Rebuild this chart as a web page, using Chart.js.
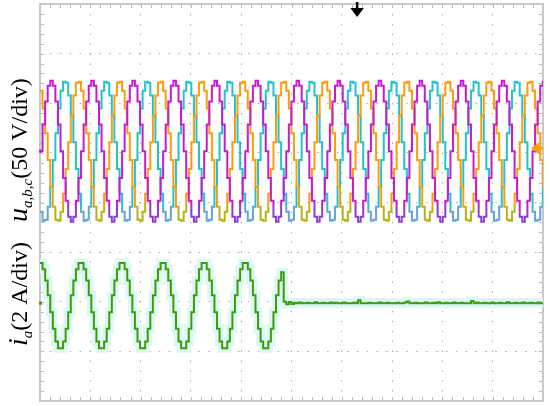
<!DOCTYPE html>
<html>
<head>
<meta charset="utf-8">
<script src="https://cdn.jsdelivr.net/npm/chart.js@4/dist/chart.umd.min.js"></script>
<style>
  html, body { margin: 0; padding: 0; background: #fff; }
  canvas { display: block; }
</style>
</head>
<body>
<canvas id="scope" width="550" height="406"></canvas>
<script>
const sampleMs = 1.275;
const triggerMs = 157.5;

// u_a (V)
const ua = [
  0, 27, 50, 66, 71, 66, 50, 27, 0, -27, -50, -66, -71, -66, -50, -27,
  0, 27, 50, 66, 71, 66, 50, 27, 0, -27, -50, -66, -71, -66, -50, -27,
  0, 27, 50, 66, 71, 66, 50, 27, 0, -27, -50, -66, -71, -66, -50, -27,
  0, 27, 50, 66, 71, 66, 50, 27, 0, -27, -50, -66, -71, -66, -50, -27,
  0, 27, 50, 66, 71, 66, 50, 27, 0, -27, -50, -66, -71, -66, -50, -27,
  0, 27, 50, 66, 71, 66, 50, 27, 0, -27, -50, -66, -71, -66, -50, -27,
  0, 27, 50, 66, 71, 66, 50, 27, 0, -27, -50, -66, -71, -66, -50, -27,
  0, 27, 50, 66, 71, 66, 50, 27, 0, -27, -50, -66, -71, -66, -50, -27,
  0, 27, 50, 66, 71, 66, 50, 27, 0, -27, -50, -66, -71, -66, -50, -27,
  0, 27, 50, 66, 71, 66, 50, 27, 0, -27, -50, -66, -71, -66, -50, -27,
  0, 27, 50, 66, 71, 66, 50, 27, 0, -27, -50, -66, -71, -66, -50, -27,
  0, 27, 50, 66, 71, 66, 50, 27, 0, -27, -50, -66, -71, -66, -50, -27,
  0, 27, 50, 66, 71
];

// u_b (V)
const ub = [
  -61, -70, -69, -56, -36, -9, 18, 43, 61, 70, 69, 56, 36, 9, -18, -43,
  -61, -70, -69, -56, -36, -9, 18, 43, 61, 70, 69, 56, 36, 9, -18, -43,
  -61, -70, -69, -56, -36, -9, 18, 43, 61, 70, 69, 56, 36, 9, -18, -43,
  -61, -70, -69, -56, -36, -9, 18, 43, 61, 70, 69, 56, 36, 9, -18, -43,
  -61, -70, -69, -56, -36, -9, 18, 43, 61, 70, 69, 56, 36, 9, -18, -43,
  -61, -70, -69, -56, -36, -9, 18, 43, 61, 70, 69, 56, 36, 9, -18, -43,
  -61, -70, -69, -56, -36, -9, 18, 43, 61, 70, 69, 56, 36, 9, -18, -43,
  -61, -70, -69, -56, -36, -9, 18, 43, 61, 70, 69, 56, 36, 9, -18, -43,
  -61, -70, -69, -56, -36, -9, 18, 43, 61, 70, 69, 56, 36, 9, -18, -43,
  -61, -70, -69, -56, -36, -9, 18, 43, 61, 70, 69, 56, 36, 9, -18, -43,
  -61, -70, -69, -56, -36, -9, 18, 43, 61, 70, 69, 56, 36, 9, -18, -43,
  -61, -70, -69, -56, -36, -9, 18, 43, 61, 70, 69, 56, 36, 9, -18, -43,
  -61, -70, -69, -56, -36
];

// u_c (V)
const uc = [
  61, 43, 18, -9, -36, -56, -69, -70, -61, -43, -18, 9, 36, 56, 69, 70,
  61, 43, 18, -9, -36, -56, -69, -70, -61, -43, -18, 9, 36, 56, 69, 70,
  61, 43, 18, -9, -36, -56, -69, -70, -61, -43, -18, 9, 36, 56, 69, 70,
  61, 43, 18, -9, -36, -56, -69, -70, -61, -43, -18, 9, 36, 56, 69, 70,
  61, 43, 18, -9, -36, -56, -69, -70, -61, -43, -18, 9, 36, 56, 69, 70,
  61, 43, 18, -9, -36, -56, -69, -70, -61, -43, -18, 9, 36, 56, 69, 70,
  61, 43, 18, -9, -36, -56, -69, -70, -61, -43, -18, 9, 36, 56, 69, 70,
  61, 43, 18, -9, -36, -56, -69, -70, -61, -43, -18, 9, 36, 56, 69, 70,
  61, 43, 18, -9, -36, -56, -69, -70, -61, -43, -18, 9, 36, 56, 69, 70,
  61, 43, 18, -9, -36, -56, -69, -70, -61, -43, -18, 9, 36, 56, 69, 70,
  61, 43, 18, -9, -36, -56, -69, -70, -61, -43, -18, 9, 36, 56, 69, 70,
  61, 43, 18, -9, -36, -56, -69, -70, -61, -43, -18, 9, 36, 56, 69, 70,
  61, 43, 18, -9, -36
];

// i_a (A), cut off after ~121 ms
const ia = [
  1.62, 1.37, 0.92, 0.32, -0.36, -1.03, -1.54, -1.81, -1.81, -1.54, -1.03, -0.36, 0.32, 0.92, 1.37, 1.62,
  1.62, 1.37, 0.92, 0.32, -0.36, -1.03, -1.54, -1.81, -1.81, -1.54, -1.03, -0.36, 0.32, 0.92, 1.37, 1.62,
  1.62, 1.37, 0.92, 0.32, -0.36, -1.03, -1.54, -1.81, -1.81, -1.54, -1.03, -0.36, 0.32, 0.92, 1.37, 1.62,
  1.62, 1.37, 0.92, 0.32, -0.36, -1.03, -1.54, -1.81, -1.81, -1.54, -1.03, -0.36, 0.32, 0.92, 1.37, 1.62,
  1.62, 1.37, 0.92, 0.32, -0.36, -1.03, -1.54, -1.81, -1.81, -1.54, -1.03, -0.36, 0.32, 0.92, 1.37, 1.62,
  1.62, 1.37, 0.92, 0.32, -0.36, -1.03, -1.54, -1.81, -1.81, -1.54, -1.03, -0.36, 0.32, 0.92, 1.25,
  0.06, -0.04, 0.05, -0.03, 0.02, 0, 0.03, 0, 0, 0.02, 0, 0, 0.04, 0, 0, 0.02,
  0, 0, 0.03, 0, 0.02, 0, 0, 0.03, 0, 0, 0, 0.02, 0, 0.12, 0, 0,
  0, 0.02, 0, 0, 0, 0.03, 0, 0, 0.02, 0, 0, 0, 0.02, 0, 0, 0.03,
  0.07, 0, 0, 0.02, 0, 0, 0, 0.03, 0, 0, 0.02, 0, 0.04, 0, 0, 0.02,
  0, 0, 0.03, 0, 0, 0.02, 0, 0, 0, 0.09, 0, 0.03, 0, 0, 0.02, 0,
  0, 0.03, 0, 0, 0.02, 0, 0, 0.04, 0, 0, 0.02, 0, 0, 0.03, 0, 0,
  0.02, 0, 0, 0.03, 0, 0.02
];

const timeMs = ua.map((_, i) => i * sampleMs);

const FONT = '"Liberation Serif", "Times New Roman", serif';

// trough region of the voltage traces renders in a shifted hue on the scope
const troughColor = (base, low) => (context) => {
  const chart = context.chart;
  if (!chart.chartArea) return base;
  const v = chart.scales.v;
  const g = chart.ctx.createLinearGradient(0, v.getPixelForValue(-52), 0, v.getPixelForValue(-60));
  g.addColorStop(0, base);
  g.addColorStop(1, low);
  return g;
};

const traceDefaults = {
  stepped: true,
  pointRadius: 0,
  borderWidth: 2,
  fill: false,
};

const frame = {
  id: 'frame',
  beforeDatasetsDraw(chart) {
    const { ctx, chartArea: a, scales } = chart;
    ctx.save();
    ctx.strokeStyle = '#b8b8b8';
    ctx.lineWidth = 1;
    for (let k = 1; k < 50; k++) {
      const x = Math.round(scales.x.getPixelForValue(k * 5)) + 0.5;
      ctx.beginPath();
      ctx.moveTo(x, a.top); ctx.lineTo(x, a.top + 4);
      ctx.moveTo(x, a.bottom); ctx.lineTo(x, a.bottom - 4);
      ctx.stroke();
    }
    for (let k = 1; k < 40; k++) {
      const y = Math.round(scales.grid.getPixelForValue(-4 + k * 0.2)) + 0.5;
      ctx.beginPath();
      ctx.moveTo(a.left, y); ctx.lineTo(a.left + 4, y);
      ctx.moveTo(a.right, y); ctx.lineTo(a.right - 4, y);
      ctx.stroke();
    }
    ctx.strokeStyle = '#c8c8c8';
    ctx.lineWidth = 2;
    ctx.strokeRect(a.left, a.top, a.width, a.height);
    ctx.restore();
  },
  afterDatasetsDraw(chart) {
    const { ctx, chartArea: a, scales } = chart;
    ctx.save();
    // trigger marker
    const tx = scales.x.getPixelForValue(triggerMs);
    ctx.fillStyle = '#000';
    ctx.fillRect(tx - 1, 2, 2.5, 8);
    ctx.beginPath();
    ctx.moveTo(tx - 6.5, 8); ctx.lineTo(tx + 7, 8); ctx.lineTo(tx + 0.25, 17); ctx.closePath();
    ctx.fill();
    // channel level markers
    const vy = scales.v.getPixelForValue(3);
    ctx.fillStyle = '#fb9d0c';
    ctx.beginPath();
    ctx.moveTo(a.right - 12, vy); ctx.lineTo(a.right - 4, vy - 6); ctx.lineTo(a.right - 4, vy + 6); ctx.closePath();
    ctx.fill();
    ctx.fillRect(a.right - 5, vy - 1.5, 5, 3);
    ctx.fillStyle = '#c61ccd';
    ctx.fillRect(a.left - 1, scales.v.getPixelForValue(0) - 1.5, 3, 3);
    ctx.fillStyle = '#3f9b0b';
    ctx.fillRect(a.left - 1, scales.i.getPixelForValue(0) - 1.5, 3, 3);
    ctx.restore();
  },
};

const drawRotated = (ctx, x, y, parts) => {
  ctx.save();
  ctx.translate(x, y);
  ctx.rotate(-Math.PI / 2);
  ctx.fillStyle = '#000';
  ctx.textBaseline = 'alphabetic';
  let pos = 0;
  for (const [font, text, dy] of parts) {
    ctx.font = font;
    ctx.fillText(text, pos, dy);
    pos += ctx.measureText(text).width;
  }
  ctx.restore();
};

const axisLabels = {
  id: 'axisLabels',
  afterDraw(chart) {
    const ctx = chart.ctx;
    drawRotated(ctx, 27, 222, [
      ['italic 28px ' + FONT, 'u', 0],
      ['italic 15px ' + FONT, 'a,b,c', 5],
      ['24px ' + FONT, '(50 V/div)', 0],
    ]);
    drawRotated(ctx, 27, 346, [
      ['italic 28px ' + FONT, 'i', 0],
      ['italic 15px ' + FONT, 'a', 5],
      ['24px ' + FONT, '(2 A/div)', 0],
    ]);
  },
};

new Chart('scope', {
  type: 'line',
  data: {
    labels: timeMs,
    datasets: [
      { ...traceDefaults, label: 'ua', data: ua, yAxisID: 'v', borderColor: troughColor('#c61ccd', '#8a3fd2') },
      { ...traceDefaults, label: 'uc', data: uc, yAxisID: 'v', borderColor: troughColor('#fb9d0c', '#b3b414') },
      { ...traceDefaults, label: 'ub', data: ub, yAxisID: 'v', borderColor: troughColor('#22c3c9', '#62a6d6') },
      { ...traceDefaults, label: 'ia', data: ia, yAxisID: 'i', borderColor: '#3f9b0b' },
      { ...traceDefaults, label: 'ia glow', data: ia, yAxisID: 'i', borderColor: '#dcf8f4', borderWidth: 9 },
    ],
  },
  options: {
    responsive: false,
    animation: false,
    devicePixelRatio: 1,
    layout: { padding: { left: 40, right: 7, top: 4, bottom: 5 } },
    plugins: { legend: { display: false }, tooltip: { enabled: false } },
    scales: {
      x: {
        type: 'linear',
        min: 0,
        max: 250,
        ticks: { display: false, stepSize: 25 },
        grid: { color: '#a8a8a8', lineWidth: 1, drawTicks: false },
        border: { display: false, dash: [1.5, 8.4] },
      },
      grid: {
        type: 'linear',
        position: 'left',
        min: -4,
        max: 4,
        ticks: { display: false, stepSize: 1 },
        grid: { color: '#a8a8a8', lineWidth: 1, drawTicks: false },
        border: { display: false, dash: [1.5, 8.4] },
      },
      v: { type: 'linear', display: false, min: -251.7, max: 148.3 },
      i: { type: 'linear', display: false, min: -3.94, max: 12.06 },
    },
  },
  plugins: [frame, axisLabels],
});
</script>
</body>
</html>
